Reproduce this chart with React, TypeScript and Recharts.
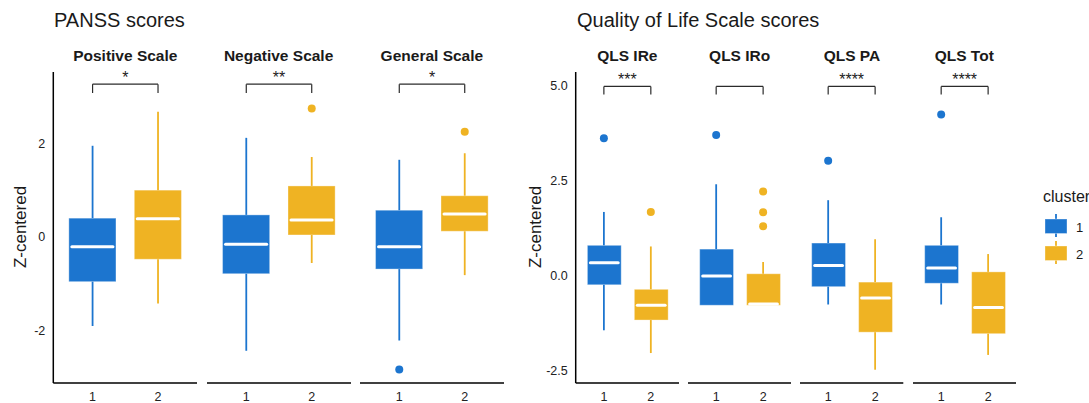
import React from "react";
import { Bar, ComposedChart, ReferenceDot, ReferenceLine, XAxis, YAxis } from "recharts";

// cluster ids on the x axis of every facet
const clusters = ["1", "2"];

// PANSS facets, each inner pair is [cluster 1, cluster 2]
const panssScales = ["Positive Scale", "Negative Scale", "General Scale"];
const panssSignif = ["*", "**", "*"];
const panssLow = [[-1.91, -1.43], [-2.44, -0.56], [-2.22, -0.82]];
const panssQ1 = [[-0.96, -0.48], [-0.79, 0.04], [-0.69, 0.12]];
const panssMedian = [[-0.21, 0.39], [-0.16, 0.36], [-0.21, 0.49]];
const panssQ3 = [[0.4, 1.0], [0.47, 1.09], [0.57, 0.88]];
const panssHigh = [[1.95, 2.68], [2.12, 1.71], [1.65, 1.79]];
const panssOutliers = [[[], []], [[], [2.75]], [[-2.84], [2.25]]];
const panssTicks = [-2, 0, 2];
const panssBracket = [3.27, 3.08];

// QLS facets
const qlsScales = ["QLS IRe", "QLS IRo", "QLS PA", "QLS Tot"];
const qlsSignif = ["***", "", "****", "****"];
const qlsLow = [[-1.44, -2.04], [-0.78, -0.78], [-0.76, -2.48], [-0.76, -2.09]];
const qlsQ1 = [[-0.24, -1.17], [-0.78, -0.78], [-0.29, -1.49], [-0.2, -1.53]];
const qlsMedian = [[0.34, -0.78], [-0.01, -0.75], [0.27, -0.59], [0.2, -0.84]];
const qlsQ3 = [[0.8, -0.36], [0.7, 0.05], [0.86, -0.17], [0.8, 0.1]];
const qlsHigh = [[1.68, 0.77], [2.41, 0.36], [1.99, 0.96], [1.54, 0.57]];
const qlsOutliers = [[[3.62], [1.68]], [[3.71], [2.22, 1.67, 1.3]], [[3.03], []], [[4.25], []]];
const qlsTicks = [-2.5, 0, 2.5, 5];
const qlsBracket = [4.99, 4.78];

const COLORS = ["#1c75cf", "#efb323"];
const FONT = "'Liberation Sans', Arial, sans-serif";
const BOX_FRAC = 0.72;

const BoxShape = (props: any) => {
    const { x, y, width, height, payload, index } = props;
    const top = Math.min(y, y + height);
    const h = Math.abs(height);
    const { q1, q3, median } = payload;
    const my = q3 === q1 ? top : top + ((q3 - median) / (q3 - q1)) * h;
    return (
        <g>
            <rect x={x} y={top} width={width} height={h} fill={COLORS[index]} stroke="rgba(255,255,255,0.35)" strokeWidth={1} />
            <line x1={x + 3} x2={x + width - 3} y1={my} y2={my} stroke="#fff" strokeWidth={3} strokeLinecap="round" />
        </g>
    );
};

interface FacetProps {
    low: number[];
    q1: number[];
    median: number[];
    q3: number[];
    high: number[];
    outliers: number[][];
    signif: string;
    bracket: number[];
    plotLeft: number;
    plotWidth: number;
    axisWidth: number;
    showAxis: boolean;
    domain: [number, number];
    ticks: number[];
    fmt: (v: number) => string;
}

const Facet = (p: FacetProps) => {
    const rows = clusters.map((c, i) => ({ cluster: c, q1: p.q1[i], median: p.median[i], q3: p.q3[i] }));
    const unit = p.plotWidth / 2.2;
    const pad = unit * 0.1;
    const aw = p.showAxis ? p.axisWidth : 0;
    return (
        <div style={{ position: "absolute", left: p.plotLeft - aw, top: 0 }}>
            <ComposedChart width={p.plotWidth + aw} height={403} data={rows} margin={{ top: 72, right: 0, bottom: 0, left: 0 }}>
                <XAxis
                    dataKey="cluster"
                    type="category"
                    padding={{ left: pad, right: pad }}
                    axisLine={{ stroke: "#000", strokeWidth: 1.5 }}
                    tickLine={false}
                    tickSize={6}
                    tickMargin={3}
                    height={20}
                    interval={0}
                    tick={{ fill: "#222", fontSize: 12.5, fontFamily: FONT }}
                />
                <YAxis
                    type="number"
                    domain={p.domain}
                    allowDataOverflow
                    ticks={p.ticks}
                    tickFormatter={p.fmt}
                    hide={!p.showAxis}
                    width={p.axisWidth}
                    axisLine={{ stroke: "#000", strokeWidth: 1.5 }}
                    tickLine={false}
                    tickSize={6}
                    tickMargin={2}
                    tick={{ fill: "#222", fontSize: 12.5, fontFamily: FONT }}
                />
                {clusters.map((c, i) => (
                    <ReferenceLine key={"wu" + c} segment={[{ x: c, y: p.q3[i] }, { x: c, y: p.high[i] }]} stroke={COLORS[i]} strokeWidth={1.8} />
                ))}
                {clusters.map((c, i) => (
                    <ReferenceLine key={"wl" + c} segment={[{ x: c, y: p.low[i] }, { x: c, y: p.q1[i] }]} stroke={COLORS[i]} strokeWidth={1.8} />
                ))}
                <Bar dataKey={(d: any) => [d.q1, d.q3]} barSize={unit * BOX_FRAC} isAnimationActive={false} shape={BoxShape} />
                {clusters.map((c, i) =>
                    p.outliers[i].map((v, j) => (
                        <ReferenceDot key={"o" + c + j} x={c} y={v} r={4} fill={COLORS[i]} stroke="none" />
                    ))
                )}
                <ReferenceLine
                    segment={[{ x: "1", y: p.bracket[0] }, { x: "2", y: p.bracket[0] }]}
                    stroke="#2b2b2b"
                    strokeWidth={1.2}
                    label={{ value: p.signif, position: "top", offset: 1, fill: "#222", fontSize: 16, fontFamily: FONT }}
                />
                <ReferenceLine segment={[{ x: "1", y: p.bracket[0] }, { x: "1", y: p.bracket[1] }]} stroke="#2b2b2b" strokeWidth={1.2} />
                <ReferenceLine segment={[{ x: "2", y: p.bracket[0] }, { x: "2", y: p.bracket[1] }]} stroke="#2b2b2b" strokeWidth={1.2} />
            </ComposedChart>
        </div>
    );
};

const Text = ({ x, y, size, children, bold, center, rotate }: any) => (
    <div
        style={{
            position: "absolute",
            left: x,
            top: y,
            fontSize: size,
            fontWeight: bold ? 700 : 400,
            lineHeight: 1,
            whiteSpace: "nowrap",
            color: "#1a1a1a",
            transform: `translate(${center ? "-50%" : "0"}, -50%)${rotate ? " rotate(-90deg)" : ""}`,
        }}
    >
        {children}
    </div>
);

export default function App() {
    const panssLefts = [53.3, 206.6, 359.9];
    const panssW = 144;
    const qlsLefts = [575.7, 688, 800.3, 912.6];
    const qlsW = 103.3;
    return (
        <div style={{ position: "absolute", left: 0, top: 0, width: 1089, height: 403, overflow: "hidden", background: "#fff", fontFamily: FONT }}>
            <Text x={54} y={20} size={20}>PANSS scores</Text>
            <Text x={577} y={20} size={20}>Quality of Life Scale scores</Text>
            <Text x={20} y={227} size={17} center rotate>Z-centered</Text>
            <Text x={535} y={227} size={17} center rotate>Z-centered</Text>

            {panssScales.map((name, k) => (
                <React.Fragment key={name}>
                    <Text x={panssLefts[k] + panssW / 2} y={56} size={15.5} bold center>{name}</Text>
                    <Facet
                        low={panssLow[k]}
                        q1={panssQ1[k]}
                        median={panssMedian[k]}
                        q3={panssQ3[k]}
                        high={panssHigh[k]}
                        outliers={panssOutliers[k]}
                        signif={panssSignif[k]}
                        bracket={panssBracket}
                        plotLeft={panssLefts[k]}
                        plotWidth={panssW}
                        axisWidth={53.3}
                        showAxis={k === 0}
                        domain={[-3.13, 3.53]}
                        ticks={panssTicks}
                        fmt={(v) => String(v)}
                    />
                </React.Fragment>
            ))}

            {qlsScales.map((name, k) => (
                <React.Fragment key={name}>
                    <Text x={qlsLefts[k] + qlsW / 2} y={56} size={15.5} bold center>{name}</Text>
                    <Facet
                        low={qlsLow[k]}
                        q1={qlsQ1[k]}
                        median={qlsMedian[k]}
                        q3={qlsQ3[k]}
                        high={qlsHigh[k]}
                        outliers={qlsOutliers[k]}
                        signif={qlsSignif[k]}
                        bracket={qlsBracket}
                        plotLeft={qlsLefts[k]}
                        plotWidth={qlsW}
                        axisWidth={35.7}
                        showAxis={k === 0}
                        domain={[-2.83, 5.37]}
                        ticks={qlsTicks}
                        fmt={(v) => v.toFixed(1)}
                    />
                </React.Fragment>
            ))}

            {/* legend */}
            <Text x={1043} y={197} size={16}>cluster</Text>
            {clusters.map((c, i) => (
                <React.Fragment key={"lg" + c}>
                    <svg style={{ position: "absolute", left: 1043, top: 212 + i * 27 }} width={26} height={27}>
                        <line x1={13} x2={13} y1={2} y2={25} stroke={COLORS[i]} strokeWidth={1.8} />
                        <rect x={2} y={7} width={22} height={14.5} fill={COLORS[i]} stroke="rgba(255,255,255,0.35)" />
                    </svg>
                    <Text x={1076} y={226.5 + i * 27} size={13}>{c}</Text>
                </React.Fragment>
            ))}
        </div>
    );
}
